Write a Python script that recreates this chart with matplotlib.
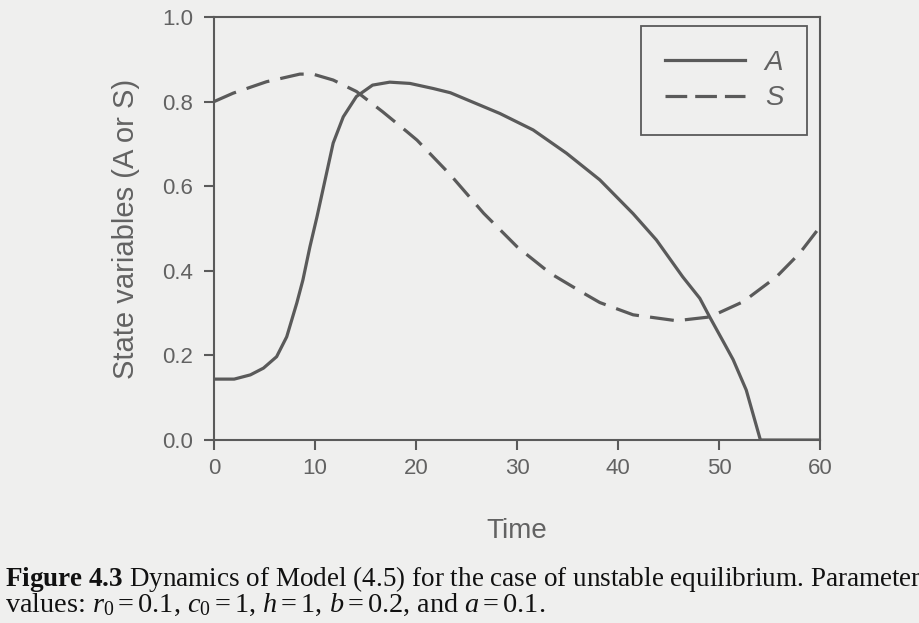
import matplotlib
matplotlib.use("Agg")
import matplotlib.pyplot as plt
from matplotlib.ticker import FormatStrFormatter

# values
t_A = [0, 2, 3.6, 4.9, 6.2, 7.2, 8.2, 8.8, 9.5, 10.2, 11, 11.8, 12.8, 14.1,
       15.7, 17.4, 19.4, 21.7, 23.4, 28.3, 31.6, 34.9, 38.2, 41.5, 43.8,
       46.4, 48.1, 49.1, 50.6, 51.4, 52.7, 54.1, 60]
A = [0.144, 0.144, 0.154, 0.170, 0.197, 0.244, 0.324, 0.378, 0.457, 0.528,
     0.615, 0.702, 0.764, 0.812, 0.839, 0.846, 0.843, 0.831, 0.821, 0.772,
     0.733, 0.678, 0.615, 0.535, 0.473, 0.386, 0.335, 0.290, 0.225, 0.190,
     0.118, 0.0, 0.0]

t_S = [0, 1.9, 5.2, 8.5, 9.8, 11.8, 14.1, 16.7, 19.1, 20.1, 23.4, 26.7, 30,
       33.3, 36.6, 38.2, 41.5, 45.8, 49.1, 52.4, 55.7, 58, 60]
S = [0.80, 0.82, 0.847, 0.865, 0.865, 0.851, 0.824, 0.776, 0.729, 0.709,
     0.627, 0.536, 0.457, 0.394, 0.347, 0.325, 0.296, 0.282, 0.291, 0.327,
     0.386, 0.442, 0.504]

x_ticks = [0, 10, 20, 30, 40, 50, 60]
y_ticks = [0.0, 0.2, 0.4, 0.6, 0.8, 1.0]

plt.rcParams['font.family'] = 'Liberation Sans'
plt.rcParams['mathtext.fontset'] = 'custom'
plt.rcParams['mathtext.rm'] = 'Liberation Serif'
plt.rcParams['mathtext.it'] = 'Liberation Serif:italic'
plt.rcParams['mathtext.bf'] = 'Liberation Serif:bold'

paper = '#efefee'
ink = '#5a5a5a'
txt_col = '#626262'

fig = plt.figure(figsize=(9.2, 6.23), dpi=100, facecolor=paper)
ax = fig.add_axes([0.2326, 0.2937, 0.6587, 0.679])
ax.set_facecolor(paper)

ax.plot(t_A, A, color=ink, lw=2.3, label='A')
ax.plot(t_S, S, color=ink, lw=2.3, dashes=(7.5, 3.5), label='S')

ax.set_xlim(0, 60)
ax.set_ylim(0, 1.0)
ax.set_xticks(x_ticks)
ax.set_yticks(y_ticks)
ax.yaxis.set_major_formatter(FormatStrFormatter('%.1f'))
ax.tick_params(direction='out', length=7, width=1.5, color=ink,
               labelcolor=txt_col, labelsize=16)
ax.tick_params(axis='y', pad=8)
ax.tick_params(axis='x', pad=6)
for sp in ax.spines.values():
    sp.set_color(ink)
    sp.set_linewidth(1.5)

ax.set_xlabel('Time', fontsize=20, color=txt_col, labelpad=28)
ax.set_ylabel('State variables (A or S)', fontsize=21, color=txt_col,
              labelpad=16)

leg = ax.legend(loc='upper right', bbox_to_anchor=(0.9785, 0.9787),
                prop={'family': 'Liberation Sans', 'style': 'italic', 'size': 20},
                frameon=True, fancybox=False, handlelength=2.9,
                handletextpad=0.7, borderpad=0.85, labelspacing=0.35,
                borderaxespad=0)
leg.get_frame().set_edgecolor(ink)
leg.get_frame().set_linewidth(1.3)
leg.get_frame().set_facecolor(paper)
leg.get_frame().set_alpha(1)
leg.get_lines()[1].set_dashes((6.8, 2.5))
for txt in leg.get_texts():
    txt.set_color(txt_col)

fig.text(0.005, 0.06, r'$\mathbf{Figure\ 4.3}$ Dynamics of Model (4.5) for the case '
         'of unstable equilibrium. Parameter', fontsize=19.5,
         family='Liberation Serif', color='#111111')
fig.text(0.005, 0.018, r'values: $r_0 = 0.1$, $c_0 = 1$, $h = 1$, $b = 0.2$, '
         r'and $a = 0.1$.', fontsize=20.3, family='Liberation Serif',
         color='#111111')

fig.savefig('out.png', dpi=100, facecolor=paper)
